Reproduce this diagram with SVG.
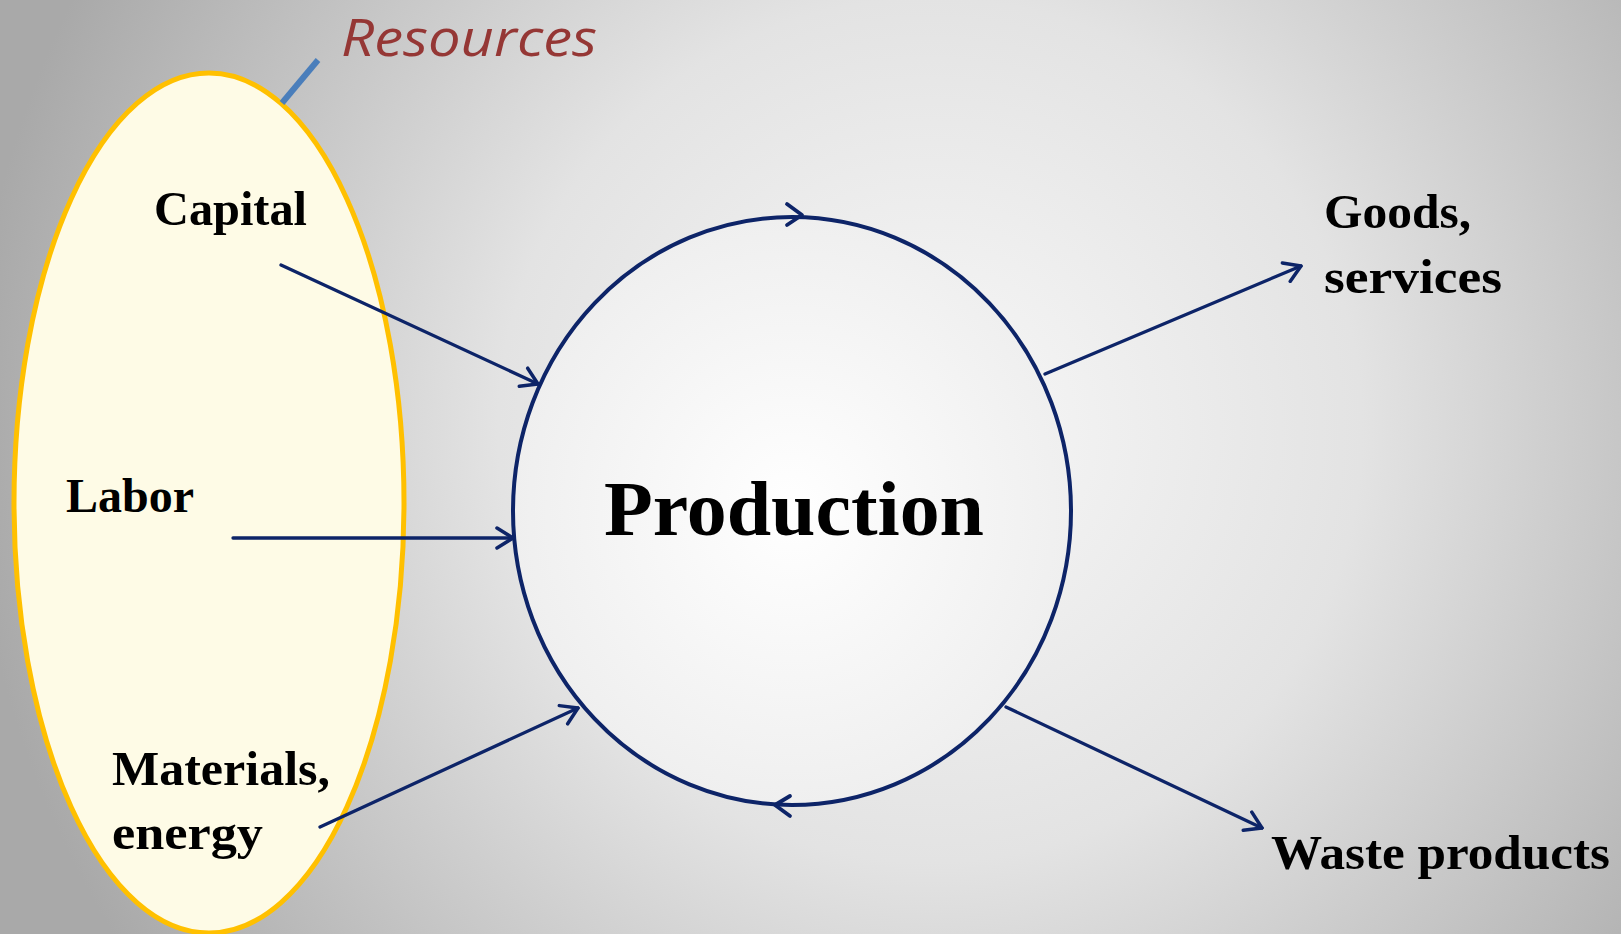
<svg xmlns="http://www.w3.org/2000/svg" width="1621" height="934" viewBox="0 0 1621 934">
  <defs>
    <radialGradient id="bg" gradientUnits="userSpaceOnUse" cx="930" cy="430" r="960">
      <stop offset="0" stop-color="#f8f8f8"/>
      <stop offset="0.45" stop-color="#e3e3e3"/>
      <stop offset="1" stop-color="#a9a9a9"/>
    </radialGradient>
    <radialGradient id="disc" cx="0.5" cy="0.5" r="0.5">
      <stop offset="0" stop-color="#ffffff"/>
      <stop offset="1" stop-color="#efefef"/>
    </radialGradient>
    <marker id="chev" viewBox="0 0 20 24" refX="18" refY="12" markerWidth="20" markerHeight="24" markerUnits="userSpaceOnUse" orient="auto">
      <path d="M2,2 L18,12 L2,22" fill="none" stroke="#0d2468" stroke-width="3.5" stroke-linecap="round" stroke-linejoin="round"/>
    </marker>
    <style>
      .lbl { font-family: "Liberation Serif", "DejaVu Serif", serif; font-weight: bold; font-size: 48px; fill: #000; }
      .flow { fill: none; stroke: #0d2468; stroke-width: 3.3; stroke-linecap: round; marker-end: url(#chev); }
      .tick { fill: none; stroke: #0d2468; stroke-width: 3.8; stroke-linecap: round; stroke-linejoin: round; }
    </style>
  </defs>

  <rect width="1621" height="934" fill="url(#bg)"/>

  <!-- resources pool -->
  <g id="resources">
    <ellipse cx="209" cy="503" rx="195" ry="430" fill="#fefbe6" stroke="#ffc000" stroke-width="5"/>
    <line x1="282" y1="103" x2="318" y2="60" stroke="#4a7ebb" stroke-width="6"/>
    <text x="341" y="56" font-family="'Open Sans', 'Liberation Sans', sans-serif" font-style="italic" font-size="52" fill="#953735" textLength="256" lengthAdjust="spacingAndGlyphs">Resources</text>
  </g>

  <g id="capital"><text class="lbl" x="154" y="225" textLength="153" lengthAdjust="spacingAndGlyphs">Capital</text></g>
  <g id="labor"><text class="lbl" x="66" y="512" textLength="128" lengthAdjust="spacingAndGlyphs">Labor</text></g>
  <g id="materials">
    <text class="lbl" x="112" y="785" textLength="218" lengthAdjust="spacingAndGlyphs">Materials,</text>
    <text class="lbl" x="112" y="849" textLength="151" lengthAdjust="spacingAndGlyphs">energy</text>
  </g>

  <!-- production cycle -->
  <g id="production">
    <ellipse cx="792" cy="511" rx="279" ry="294" fill="url(#disc)" stroke="#0d2468" stroke-width="4"/>
    <path class="tick" d="M787,204 L802,215 L787,225"/>
    <path class="tick" d="M790,796 L775,805 L790,816"/>
    <text x="604" y="535" font-family="'Liberation Serif', 'DejaVu Serif', serif" font-weight="bold" font-size="78" textLength="380" lengthAdjust="spacingAndGlyphs">Production</text>
  </g>

  <g id="goods">
    <text class="lbl" x="1324" y="228" textLength="147" lengthAdjust="spacingAndGlyphs">Goods,</text>
    <text class="lbl" x="1324" y="293" textLength="178" lengthAdjust="spacingAndGlyphs">services</text>
  </g>
  <g id="waste"><text class="lbl" x="1271" y="869" textLength="339" lengthAdjust="spacingAndGlyphs">Waste products</text></g>

  <g id="connectors">
    <line class="flow" x1="281" y1="265" x2="538" y2="384"/>
    <line class="flow" x1="233" y1="538" x2="513" y2="538"/>
    <line class="flow" x1="320" y1="827" x2="578" y2="708"/>
    <line class="flow" x1="1045" y1="374" x2="1301" y2="266"/>
    <line class="flow" x1="1006" y1="707" x2="1262" y2="828"/>
  </g>
</svg>
